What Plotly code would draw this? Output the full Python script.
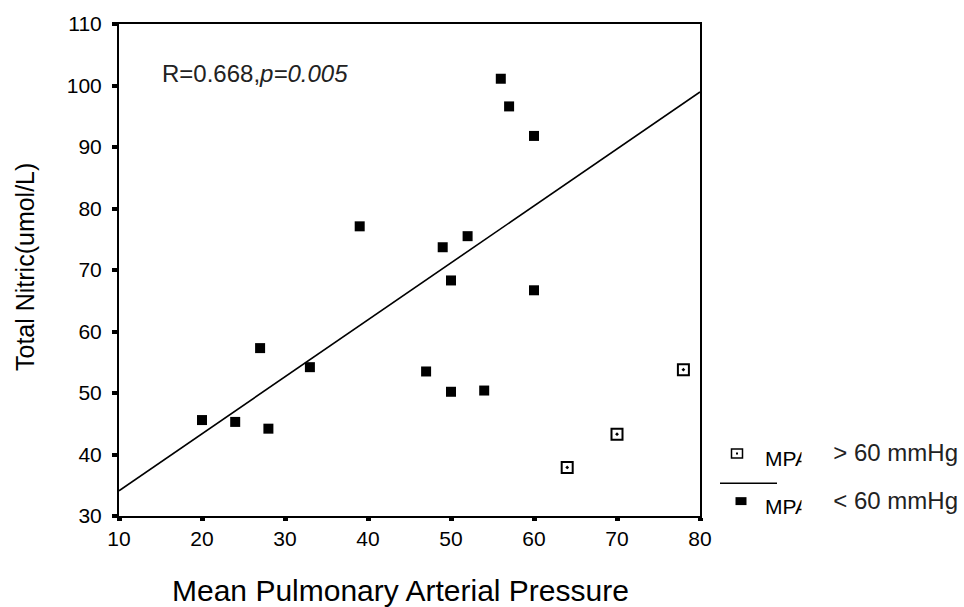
import numpy as np
import plotly.graph_objects as go

# Mean pulmonary arterial pressure (mmHg) vs total nitric oxide (umol/L)
# Group with MPA < 60 mmHg
low_mpa = [20, 24, 28, 27, 33, 39, 49, 52, 50, 47, 50, 54, 56, 57, 60, 60]
low_no = [45.6, 45.3, 44.2, 57.3, 54.2, 77.1, 73.7, 75.5, 68.3, 53.5, 50.2, 50.4,
          101.1, 96.6, 91.8, 66.7]
# Group with MPA > 60 mmHg
high_mpa = [64, 70, 78]
high_no = [37.9, 43.3, 53.8]

x_ticks = [10, 20, 30, 40, 50, 60, 70, 80]
y_ticks = [30, 40, 50, 60, 70, 80, 90, 100, 110]
x_range = [10, 80]
y_range = [30, 110]

stat_label = "R=0.668,<i>p=0.005</i>"
x_title = "Mean Pulmonary Arterial Pressure"
y_title = "Total Nitric(umol/L)"
legend_rows = [("MPA", "> 60 mmHg"), ("MPA", "< 60 mmHg")]

# least-squares line through the MPA < 60 group, spanning the x axis
slope, intercept = np.polyfit(low_mpa, low_no, 1)
fit_x = np.array(x_range, dtype=float)
fit_y = intercept + slope * fit_x

W, H = 964, 607
L, R, T, B = 119, 264, 20, 91
PW, PH = W - L - R, H - T - B


def px(xp):
    return (xp - L) / PW


def py(yp):
    return (H - B - yp) / PH


FONT = "Liberation Sans, Arial, Helvetica, sans-serif"

fig = go.Figure()
fig.add_trace(go.Scatter(
    x=fit_x, y=fit_y, mode="lines",
    line=dict(color="black", width=1.6), hoverinfo="skip", showlegend=False))
fig.add_trace(go.Scatter(
    x=low_mpa, y=low_no, mode="markers",
    marker=dict(symbol="square", size=10, color="black", line=dict(width=0)),
    showlegend=False))
fig.add_trace(go.Scatter(
    x=high_mpa, y=high_no, mode="markers",
    marker=dict(symbol="square-open-dot", size=11, color="black",
                line=dict(width=2)),
    showlegend=False))

axis_common = dict(
    showline=True, linecolor="black", linewidth=2, mirror=True,
    showgrid=False, zeroline=False, ticks="outside", tickcolor="black",
    tickfont=dict(family=FONT, size=21, color="black"),
)
fig.update_xaxes(range=x_range, tickvals=x_ticks, ticklen=3, tickwidth=5,
                 ticklabelstandoff=0, **axis_common)
fig.update_yaxes(range=y_range, tickvals=y_ticks, ticklen=5, tickwidth=4,
                 ticklabelstandoff=6, **axis_common)

annotations = [
    dict(text=stat_label, x=px(160), y=py(70), xanchor="left", yanchor="middle",
         font=dict(family=FONT, size=24, color="#222")),
    dict(text=x_title, x=px(400), y=py(591), xanchor="center", yanchor="middle",
         font=dict(family=FONT, size=30, color="black")),
    dict(text=y_title, x=px(25), y=py(265), xanchor="center", yanchor="middle",
         textangle=-90, font=dict(family=FONT, size=25, color="black")),
]

shapes = []
row_y = [453, 501]
for i, (abbr, rng) in enumerate(legend_rows):
    cy = row_y[i]
    annotations.append(dict(
        text=abbr, x=px(763), y=py(cy + 5), xanchor="left", yanchor="middle",
        font=dict(family=FONT, size=21, color="black")))
for i, (abbr, rng) in enumerate(legend_rows):
    cy = row_y[i]
    annotations.append(dict(
        text=rng, x=px(959), y=py(cy - 1), xanchor="right", yanchor="middle",
        width=156, align="right", bgcolor="white", borderpad=0,
        font=dict(family=FONT, size=24, color="#222")))

# legend glyphs
shapes.append(dict(type="rect", xref="paper", yref="paper",
                   x0=px(731.5), x1=px(742.5), y0=py(448.5), y1=py(457.5),
                   line=dict(color="black", width=1.5), fillcolor="white"))
shapes.append(dict(type="rect", xref="paper", yref="paper",
                   x0=px(736), x1=px(738), y0=py(452), y1=py(454),
                   line=dict(width=0), fillcolor="black"))
shapes.append(dict(type="line", xref="paper", yref="paper",
                   x0=px(720), x1=px(777), y0=py(483), y1=py(483),
                   line=dict(color="black", width=1.5)))
shapes.append(dict(type="rect", xref="paper", yref="paper",
                   x0=px(735.5), x1=px(746.5), y0=py(497), y1=py(505),
                   line=dict(width=0), fillcolor="black"))

for a in annotations:
    a.setdefault("xref", "paper")
    a.setdefault("yref", "paper")
    a.setdefault("showarrow", False)

fig.update_layout(
    width=W, height=H, autosize=False,
    margin=dict(l=L, r=R, t=T, b=B, pad=0),
    plot_bgcolor="white", paper_bgcolor="white",
    annotations=annotations, shapes=shapes, showlegend=False,
)

fig.write_html("out.html")
